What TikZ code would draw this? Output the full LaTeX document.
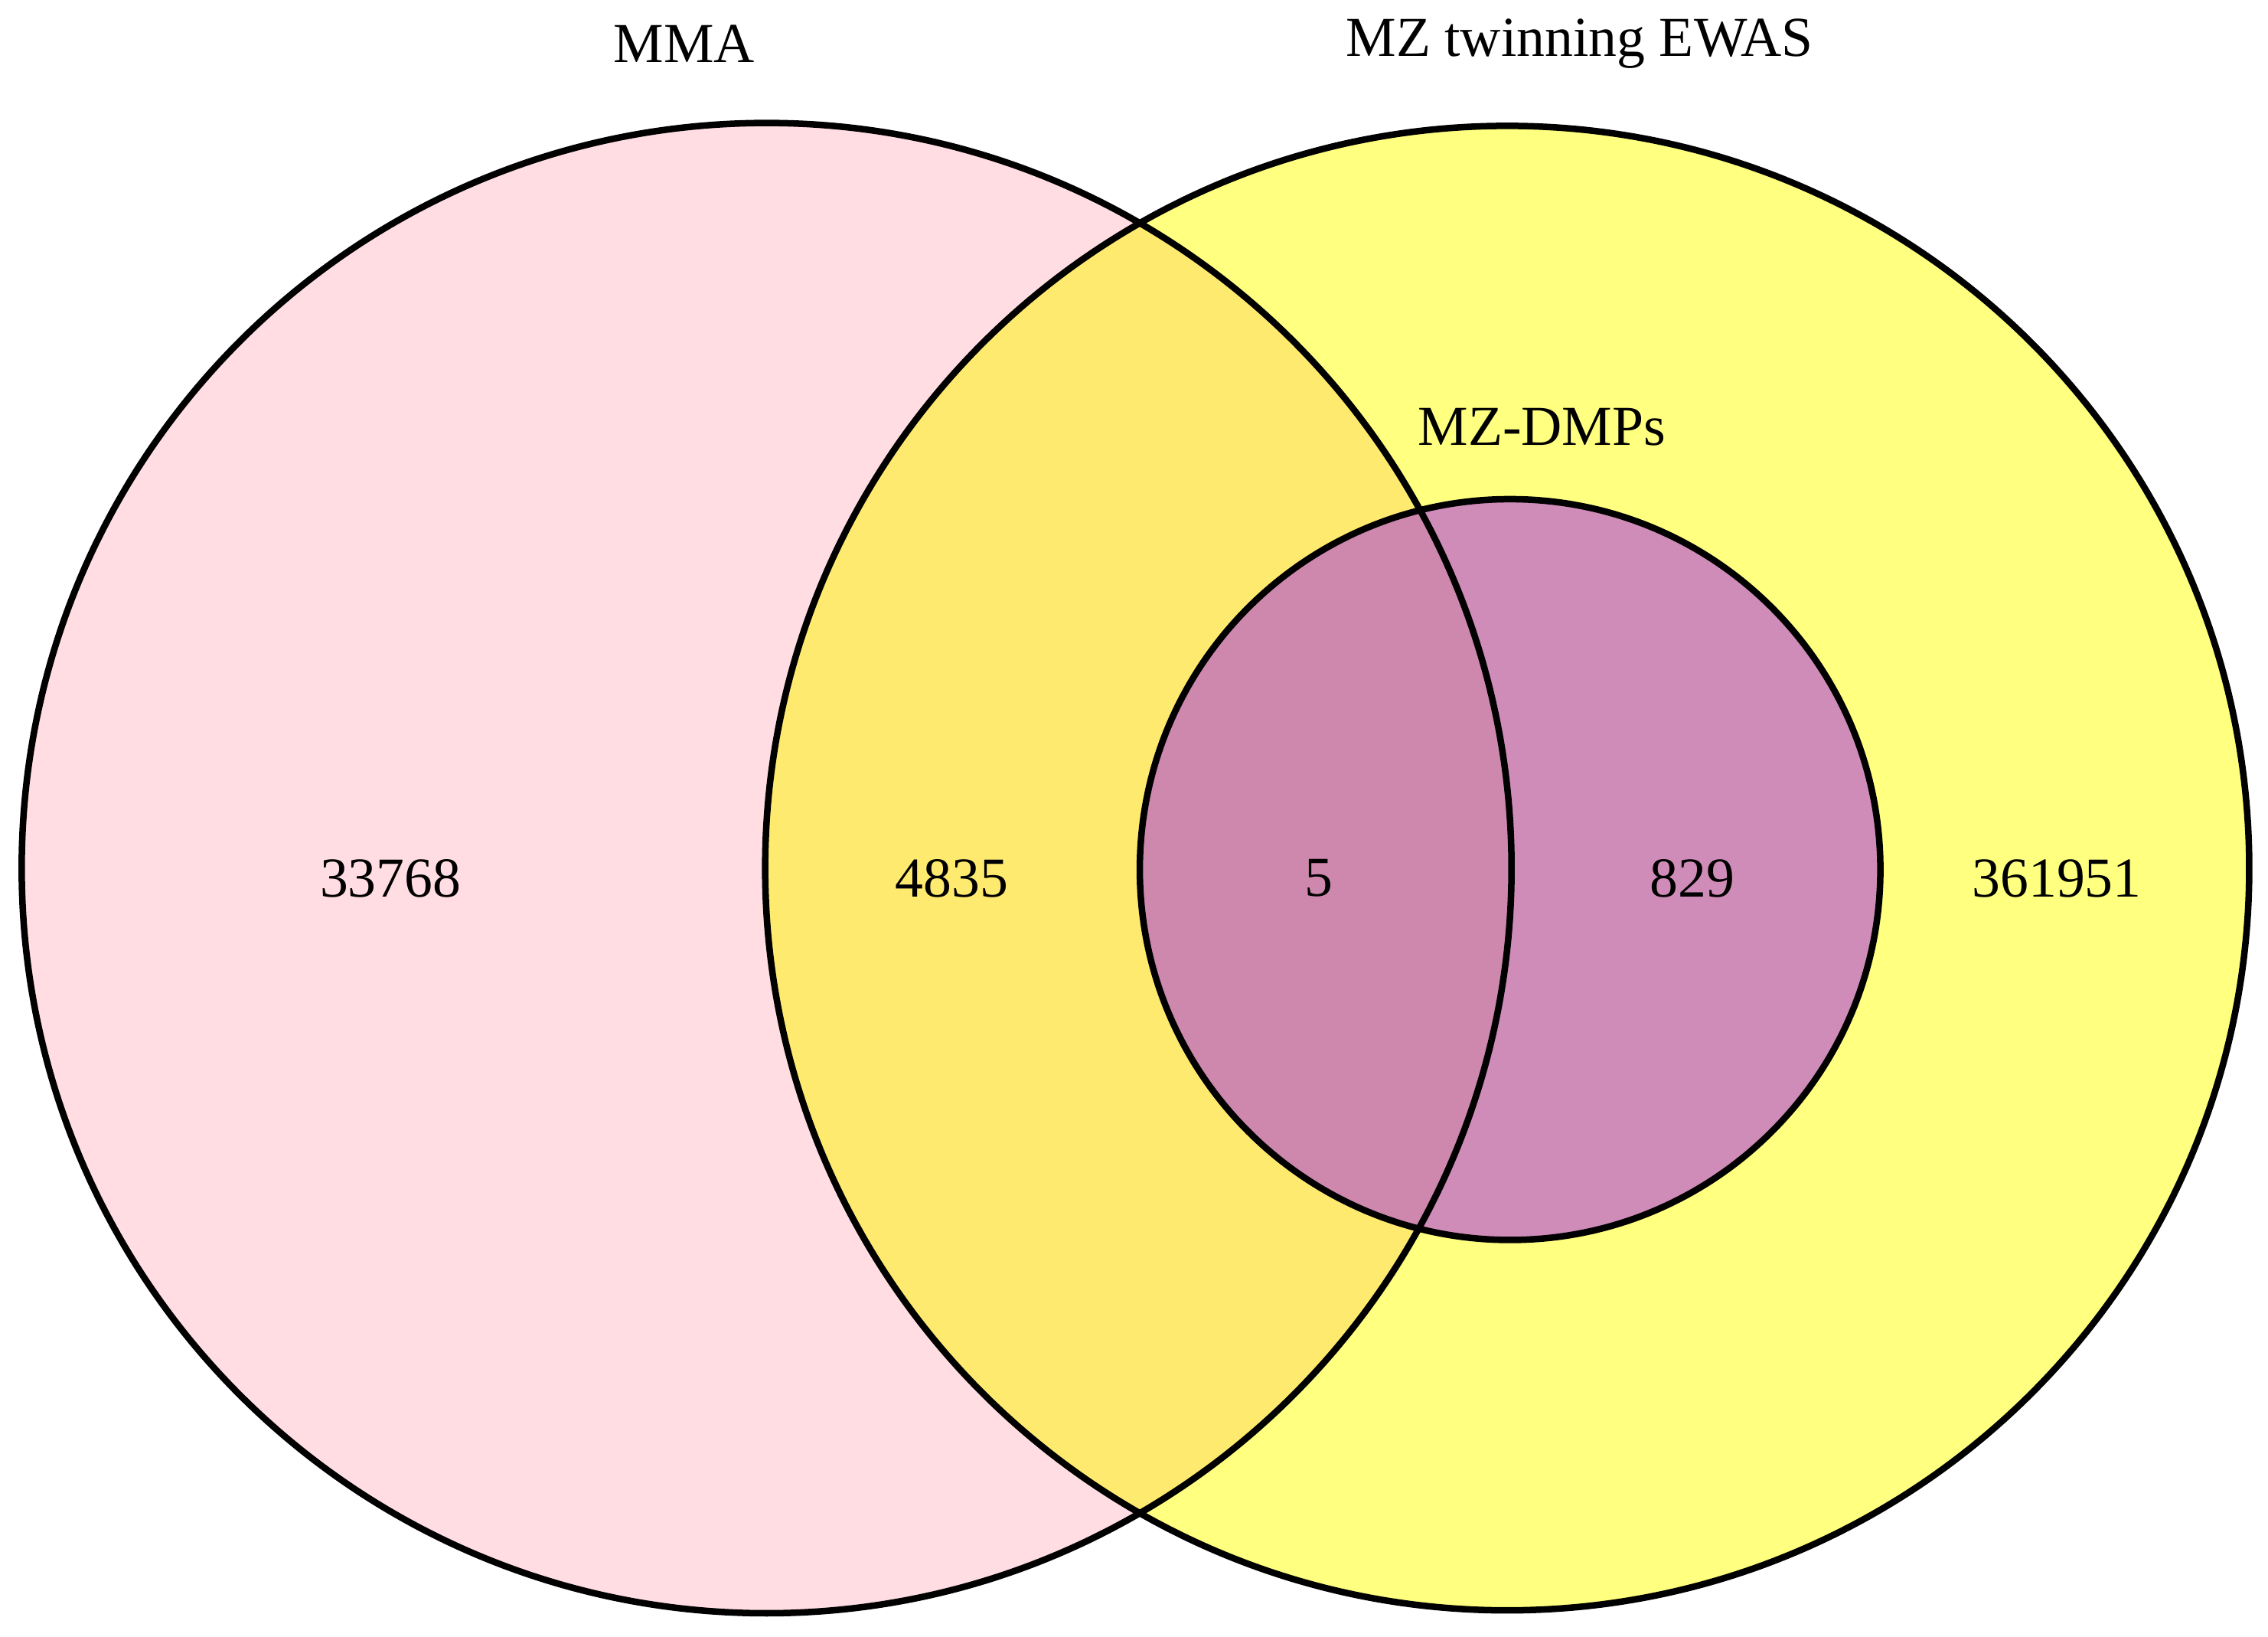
\documentclass[tikz,border=0pt]{standalone}
\usepackage{fontspec}
\setmainfont{Liberation Serif}
\definecolor{pinkA}{HTML}{FFDDE2}
\definecolor{yelB}{HTML}{FFFF80}
\definecolor{ovAB}{HTML}{FFEA70}
\definecolor{purC}{HTML}{D08CB8}
\definecolor{ovAC}{HTML}{CE88AE}
\begin{document}
\begin{tikzpicture}[x=1pt,y=-1pt,
  lbl/.style={font=\fontsize{39}{45}\selectfont, inner sep=0pt},
  ring/.style={draw=black, line width=4.5pt}]
\useasboundingbox (0,0) rectangle (1568,1131);
\coordinate (cA) at (530,600);
\coordinate (cB) at (1042,600);
\coordinate (cC) at (1044,601);
\fill[pinkA] (cA) circle[radius=515];
\fill[yelB] (cB) circle[radius=513];
\begin{scope}
  \clip (cA) circle[radius=515];
  \fill[ovAB] (cB) circle[radius=513];
\end{scope}
\fill[purC] (cC) circle[radius=256];
\begin{scope}
  \clip (cA) circle[radius=515];
  \fill[ovAC] (cC) circle[radius=256];
\end{scope}
\draw[ring] (cA) circle[radius=515];
\draw[ring] (cB) circle[radius=513];
\draw[ring] (cC) circle[radius=256];
\node[lbl] (tA) at (473,30) {MMA};
\node[lbl] (tB) at (1092,30) {MZ twinning EWAS};
\node[lbl] (tC) at (1066,295) {MZ-DMPs};
\node[lbl] (n1) at (270,607) {33768};
\node[lbl] (n2) at (658,607) {4835};
\node[lbl] (n3) at (912,607) {5};
\node[lbl] (n4) at (1170,607) {829};
\node[lbl] (n5) at (1422,607) {361951};
\end{tikzpicture}
\end{document}
